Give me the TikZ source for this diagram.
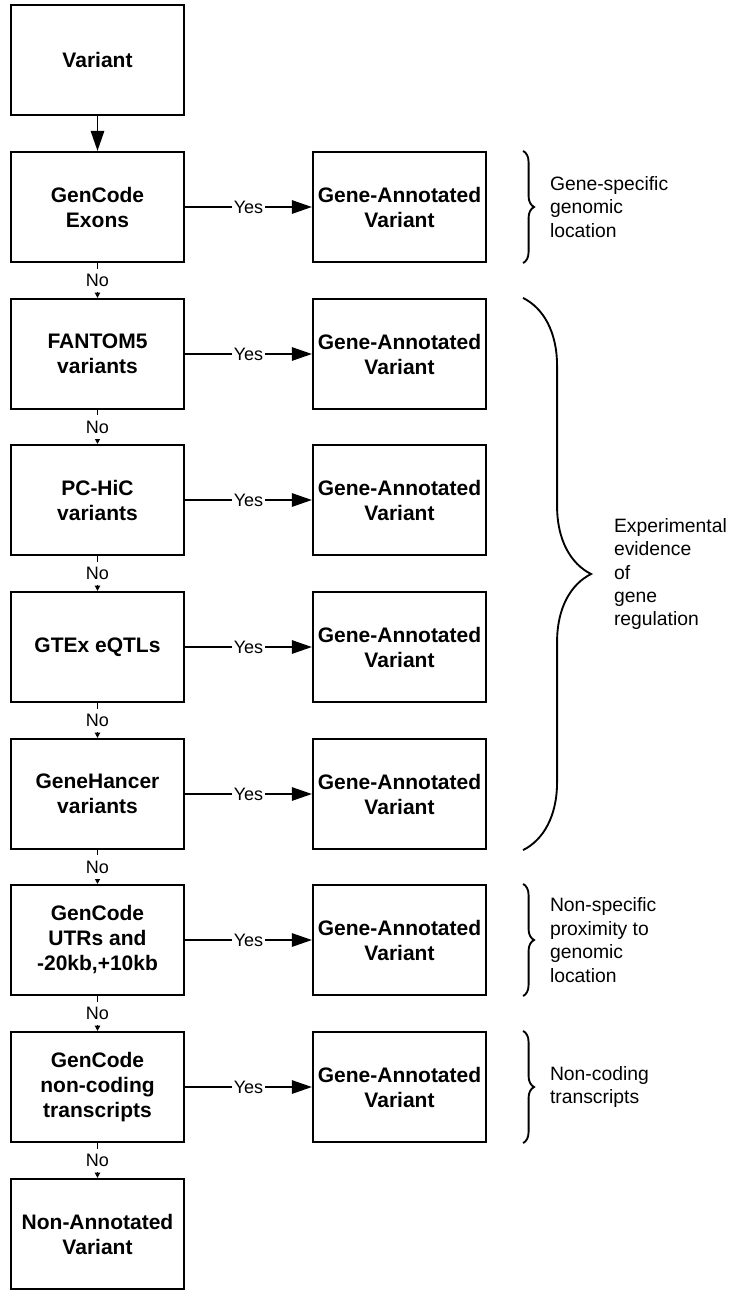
\documentclass[tikz,border=0pt]{standalone}
\usepackage{fontspec}
\setmainfont{Liberation Sans}
\usetikzlibrary{arrows.meta,decorations.pathreplacing}
\tikzset{
  box/.style={draw, line width=1.6pt, minimum width=129.75pt, minimum height=82.5pt,
    inner sep=0pt, align=center, font=\bfseries\fontsize{15.75}{18.75}\selectfont},
  yes/.style={line width=1.3pt, -{Triangle[length=15pt,width=10pt]}},
  no/.style={line width=1.3pt, -{Triangle[length=4pt,width=4pt]}},
  lab/.style={fill=white, inner xsep=1.5pt, inner ysep=4pt, font=\fontsize{13.5}{15}\selectfont},
  note/.style={anchor=west, align=left, inner sep=0pt, font=\fontsize{14.5}{17.6}\selectfont},
  curly/.style={decorate, line width=1.4pt, decoration={brace, amplitude=#1}}
}
\begin{document}
\begin{tikzpicture}[x=0.75pt, y=-0.75pt]
            \useasboundingbox (0,0) rectangle (731,1292);
            % decision column
            \node[box] (V) at (97.5,60){Variant};
            \node[box] (Q1) at (97.5,207){GenCode\\Exons};
            \node[box] (Q2) at (97.5,354){FANTOM5\\variants};
            \node[box] (Q3) at (97.5,500){PC-HiC\\variants};
            \node[box] (Q4) at (97.5,647){GTEx eQTLs};
            \node[box] (Q5) at (97.5,794){GeneHancer\\variants};
            \node[box] (Q6) at (97.5,940){GenCode\\UTRs and\\-20kb,+10kb};
            \node[box] (Q7) at (97.5,1087){GenCode\\non-coding\\transcripts};
            \node[box] (N) at (97.5,1234){Non-Annotated\\Variant};
            % annotated column
            \node[box] (A1) at (399.5,207){Gene-Annotated\\Variant};
            \node[box] (A2) at (399.5,354){Gene-Annotated\\Variant};
            \node[box] (A3) at (399.5,500){Gene-Annotated\\Variant};
            \node[box] (A4) at (399.5,647){Gene-Annotated\\Variant};
            \node[box] (A5) at (399.5,794){Gene-Annotated\\Variant};
            \node[box] (A6) at (399.5,940){Gene-Annotated\\Variant};
            \node[box] (A7) at (399.5,1087){Gene-Annotated\\Variant};
            \draw[yes] (V) -- (Q1);
            \draw[no] (Q1) -- (Q2) node[midway, lab]{No};
            \draw[no] (Q2) -- (Q3) node[midway, lab]{No};
            \draw[no] (Q3) -- (Q4) node[midway, lab]{No};
            \draw[no] (Q4) -- (Q5) node[midway, lab]{No};
            \draw[no] (Q5) -- (Q6) node[midway, lab]{No};
            \draw[no] (Q6) -- (Q7) node[midway, lab]{No};
            \draw[no] (Q7) -- (N) node[midway, lab]{No};
            \draw[yes] (Q1) -- (A1) node[midway, lab]{Yes};
            \draw[yes] (Q2) -- (A2) node[midway, lab]{Yes};
            \draw[yes] (Q3) -- (A3) node[midway, lab]{Yes};
            \draw[yes] (Q4) -- (A4) node[midway, lab]{Yes};
            \draw[yes] (Q5) -- (A5) node[midway, lab]{Yes};
            \draw[yes] (Q6) -- (A6) node[midway, lab]{Yes};
            \draw[yes] (Q7) -- (A7) node[midway, lab]{Yes};
            % braces
            \draw[curly=8.25pt] ([xshift=27pt]A1.north east) -- ([xshift=27pt]A1.south east)
                node[midway, note, xshift=19.5pt]{Gene-specific\\genomic\\location};
            \draw[curly=51pt] ([xshift=27pt]A2.north east) -- ([xshift=27pt]A5.south east)
                node[midway, note, xshift=67.5pt]{Experimental\\evidence\\of\\gene\\regulation};
            \draw[curly=8.25pt] ([xshift=27pt]A6.north east) -- ([xshift=27pt]A6.south east)
                node[midway, note, xshift=19.5pt]{Non-specific\\proximity to\\genomic\\location};
            \draw[curly=8.25pt] ([xshift=27pt]A7.north east) -- ([xshift=27pt]A7.south east)
                node[midway, note, xshift=19.5pt]{Non-coding\\transcripts};
        \end{tikzpicture}
\end{document}
